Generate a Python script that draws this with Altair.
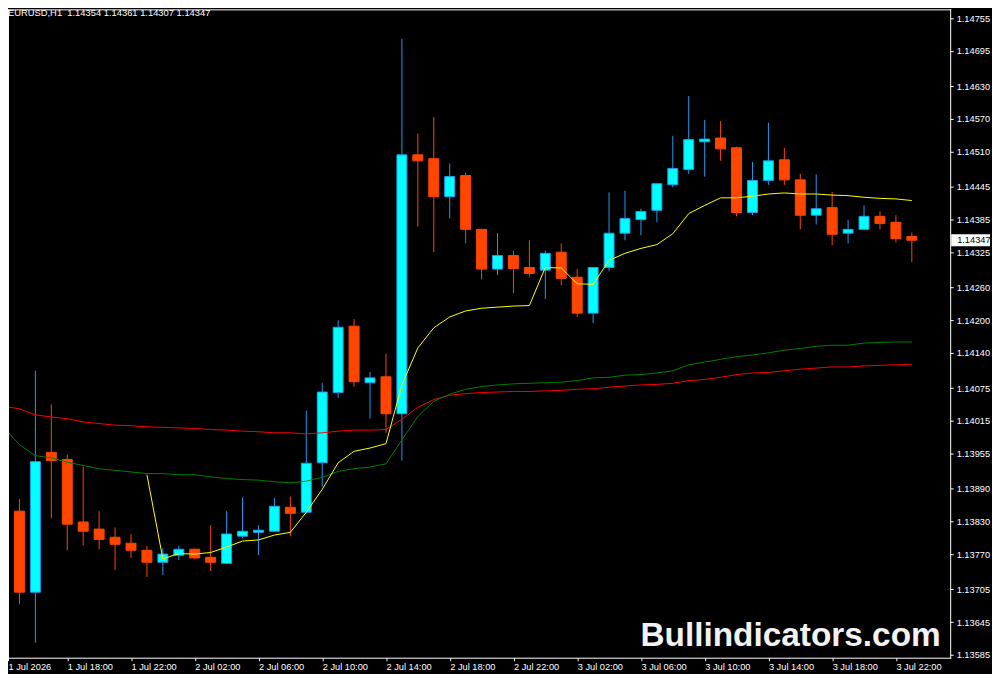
import json
import altair as alt
import pandas as pd

# ---------------- data (EURUSD H1, 1 Jul 14:00 -> 3 Jul 23:00) ----------------
opens = [1.13971, 1.13849, 1.13700, 1.13957, 1.13944, 1.13829, 1.13816, 1.13801, 1.13790, 1.13777,
         1.13755, 1.13768, 1.13779, 1.13764, 1.13753, 1.13803, 1.13810, 1.13812, 1.13856, 1.13847,
         1.13938, 1.14067, 1.14189, 1.14085, 1.14096, 1.14028, 1.14504, 1.14497, 1.14427, 1.14466,
         1.14367, 1.14294, 1.14319, 1.14297, 1.14292, 1.14325, 1.14279, 1.14213, 1.14297, 1.14360,
         1.14385, 1.14402, 1.14449, 1.14477, 1.14528, 1.14535, 1.14517, 1.14398, 1.14457, 1.14495,
         1.14458, 1.14393, 1.14407, 1.14360, 1.14367, 1.14391, 1.14380, 1.14354]
highs = [1.13980, 1.13871, 1.14107, 1.14045, 1.13953, 1.13931, 1.13849, 1.13819, 1.13807, 1.13785,
         1.13781, 1.13785, 1.13780, 1.13823, 1.13849, 1.13874, 1.13823, 1.13873, 1.13876, 1.14034,
         1.14085, 1.14200, 1.14202, 1.14105, 1.14138, 1.14717, 1.14543, 1.14574, 1.14488, 1.14471,
         1.14368, 1.14360, 1.14328, 1.14347, 1.14328, 1.14341, 1.14294, 1.14297, 1.14435, 1.14438,
         1.14405, 1.14451, 1.14539, 1.14612, 1.14568, 1.14566, 1.14519, 1.14491, 1.14563, 1.14517,
         1.14469, 1.14468, 1.14436, 1.14385, 1.14411, 1.14400, 1.14393, 1.14361]
lows = [1.13840, 1.13678, 1.13607, 1.13836, 1.13777, 1.13786, 1.13779, 1.13741, 1.13763, 1.13728,
        1.13732, 1.13759, 1.13761, 1.13739, 1.13752, 1.13799, 1.13768, 1.13811, 1.13803, 1.13845,
        1.13894, 1.14057, 1.14078, 1.14019, 1.13993, 1.13942, 1.14372, 1.14325, 1.14387, 1.14341,
        1.14275, 1.14283, 1.14250, 1.14279, 1.14239, 1.14264, 1.14206, 1.14195, 1.14290, 1.14347,
        1.14356, 1.14380, 1.14444, 1.14469, 1.14464, 1.14493, 1.14391, 1.14393, 1.14449, 1.14449,
        1.14367, 1.14376, 1.14338, 1.14341, 1.14367, 1.14367, 1.14343, 1.14307]
closes = [1.13843, 1.13700, 1.13940, 1.13942, 1.13825, 1.13812, 1.13797, 1.13788, 1.13777, 1.13755,
          1.13770, 1.13779, 1.13763, 1.13755, 1.13807, 1.13812, 1.13814, 1.13858, 1.13845, 1.13937,
          1.14068, 1.14187, 1.14087, 1.14094, 1.14028, 1.14504, 1.14493, 1.14427, 1.14464, 1.14367,
          1.14294, 1.14319, 1.14295, 1.14286, 1.14323, 1.14277, 1.14213, 1.14297, 1.14360, 1.14387,
          1.14400, 1.14451, 1.14479, 1.14532, 1.14533, 1.14515, 1.14398, 1.14457, 1.14493, 1.14458,
          1.14393, 1.14405, 1.14358, 1.14367, 1.14391, 1.14378, 1.14350, 1.14347]

ma_yellow = [None, None, None, None, None, None, None, None, None, 1.13916,
             1.13761, 1.13771, 1.13770, 1.13773, 1.13783, 1.13794, 1.13796, 1.13805, 1.13810, 1.13847,
             1.13889, 1.13938, 1.13959, 1.13965, 1.13973, 1.14081, 1.14149, 1.14186, 1.14206, 1.14217,
             1.14222, 1.14224, 1.14226, 1.14227, 1.14297, 1.14296, 1.14267, 1.14266, 1.14310, 1.14323,
             1.14332, 1.14339, 1.14359, 1.14396, 1.14411, 1.14425, 1.14425, 1.14428, 1.14432, 1.14434,
             1.14432, 1.14432, 1.14430, 1.14429, 1.14426, 1.14424, 1.14423, 1.14420]
ma_green = [1.14004, 1.13971, 1.13951, 1.13947, 1.13939, 1.13933, 1.13927, 1.13924, 1.13921, 1.13918,
            1.13918, 1.13916, 1.13916, 1.13912, 1.13909, 1.13907, 1.13906, 1.13903, 1.13901, 1.13904,
            1.13911, 1.13922, 1.13927, 1.13930, 1.13936, 1.13980, 1.14023, 1.14051, 1.14064, 1.14073,
            1.14078, 1.14081, 1.14083, 1.14084, 1.14085, 1.14086, 1.14089, 1.14094, 1.14095, 1.14099,
            1.14100, 1.14103, 1.14107, 1.14118, 1.14123, 1.14128, 1.14133, 1.14136, 1.14140, 1.14145,
            1.14148, 1.14152, 1.14154, 1.14154, 1.14158, 1.14159, 1.14160, 1.14160]
ma_red = [1.14042, 1.14037, 1.14026, 1.14022, 1.14019, 1.14013, 1.14010, 1.14007, 1.14006, 1.14004,
          1.14003, 1.14002, 1.14001, 1.13999, 1.13998, 1.13996, 1.13995, 1.13993, 1.13993, 1.13991,
          1.13993, 1.13996, 1.13998, 1.13998, 1.13999, 1.14018, 1.14040, 1.14054, 1.14062, 1.14065,
          1.14067, 1.14068, 1.14069, 1.14069, 1.14070, 1.14071, 1.14073, 1.14074, 1.14077, 1.14079,
          1.14081, 1.14082, 1.14084, 1.14089, 1.14091, 1.14095, 1.14100, 1.14103, 1.14104, 1.14107,
          1.14110, 1.14112, 1.14114, 1.14114, 1.14116, 1.14117, 1.14118, 1.14119]

time_labels = ["1 Jul 2026", "1 Jul 18:00", "1 Jul 22:00", "2 Jul 02:00", "2 Jul 06:00",
               "2 Jul 10:00", "2 Jul 14:00", "2 Jul 18:00", "2 Jul 22:00", "3 Jul 02:00",
               "3 Jul 06:00", "3 Jul 10:00", "3 Jul 14:00", "3 Jul 18:00", "3 Jul 22:00"]
price_labels = [1.14755, 1.14695, 1.14630, 1.14570, 1.14510, 1.14445, 1.14385, 1.14325, 1.14260,
                1.14200, 1.14140, 1.14075, 1.14015, 1.13955, 1.13890, 1.13830, 1.13770, 1.13705,
                1.13645, 1.13585]
symbol_name = "EURUSD,H1"
watermark = "Bullindicators.com"

# ---------------- layout / style ----------------
W, H = 946, 651
BARS_PER_TICK = 4
PX_PER_BAR = 16.0
PX_PER_UNIT = 54615.0
X0 = 0.28125
X1 = X0 + W / PX_PER_BAR
Y1 = 1.147715
Y0 = Y1 - H / PX_PER_UNIT
FONT = "Liberation Sans"
LBL = 9.3
BULL_FILL, BULL_EDGE, BEAR = "#00FFFF", "#1E9BF0", "#FF4500"
WHITE = "#FFFFFF"

n = len(opens)
idx = list(range(n))
candles = pd.DataFrame({"k": idx, "open": opens, "high": highs, "low": lows, "close": closes})
candles["dir"] = ["bull" if c >= o else "bear" for o, c in zip(opens, closes)]
lines = pd.DataFrame({"k": idx, "yellow": ma_yellow, "green": ma_green, "red": ma_red})

xs = alt.Scale(domain=[X0, X1], nice=False, zero=False, padding=0)
ys = alt.Scale(domain=[Y0, Y1], nice=False, zero=False, padding=0)

tick_vals = [X0] + [i * BARS_PER_TICK for i in range(1, len(time_labels))]
label_expr = (f"datum.value < 1 ? {json.dumps(time_labels[0])} : "
              f"{json.dumps(time_labels)}[round(datum.value / {BARS_PER_TICK})]")

in_labels = [v for v in price_labels if Y0 <= v <= Y1]
out_labels = [v for v in price_labels if not (Y0 <= v <= Y1)]

x_axis = alt.Axis(values=tick_vals, labelExpr=label_expr, orient="bottom", domain=False, grid=False,
                  tickSize=3, tickColor=WHITE, labelColor=WHITE, labelFont=FONT, labelFontSize=LBL,
                  labelAlign="left", labelBaseline="top", labelPadding=2, labelFlush=False,
                  labelOverlap=False, title=None)
y_axis = alt.Axis(values=in_labels, format=".5f", orient="right", domain=False, grid=False,
                  tickSize=3, tickColor=WHITE, labelColor=WHITE, labelFont=FONT, labelFontSize=LBL,
                  labelAlign="left", labelBaseline="middle", labelPadding=3, labelFlush=False,
                  labelOverlap=False, title=None)


def X():
    return alt.X("k:Q", scale=xs, axis=x_axis)


def Y(field):
    return alt.Y(field, scale=ys, axis=y_axis)


base = alt.Chart(candles)

wick_bull = base.transform_filter("datum.dir == 'bull'").mark_rule(
    color=BULL_EDGE, strokeWidth=1, clip=True).encode(x=X(), y=Y("low:Q"), y2="high:Q")
wick_bear = base.transform_filter("datum.dir == 'bear'").mark_rule(
    color=BEAR, strokeWidth=1, clip=True).encode(x=X(), y=Y("low:Q"), y2="high:Q")
body_bull = base.transform_filter("datum.dir == 'bull'").mark_bar(
    size=10, fill=BULL_FILL, stroke=BULL_EDGE, strokeWidth=1, clip=True).encode(
    x=X(), y=Y("open:Q"), y2="close:Q")
body_bear = base.transform_filter("datum.dir == 'bear'").mark_bar(
    size=10, fill=BEAR, stroke=BEAR, strokeWidth=1, clip=True).encode(
    x=X(), y=Y("open:Q"), y2="close:Q")


def ma_layer(col, color):
    return alt.Chart(lines).transform_filter(f"isValid(datum.{col})").mark_line(
        color=color, strokeWidth=1, clip=True).encode(x=X(), y=Y(f"{col}:Q"))


red_line = ma_layer("red", "#FF0000")
green_line = ma_layer("green", "#008000")
yellow_line = ma_layer("yellow", "#FFFF00")

# frame
frame_df = pd.DataFrame({"side": ["l"]})
frame = alt.layer(
    alt.Chart(frame_df).mark_rule(color=WHITE, strokeWidth=1).encode(
        x=alt.value(0.5), y=alt.value(0), y2=alt.value(H + 1)),
    alt.Chart(frame_df).mark_rule(color=WHITE, strokeWidth=1).encode(
        x=alt.value(W + 0.5), y=alt.value(0), y2=alt.value(H + 1)),
    alt.Chart(frame_df).mark_rule(color=WHITE, strokeWidth=1).encode(
        x=alt.value(0), x2=alt.value(W + 1), y=alt.value(0.5)),
    alt.Chart(frame_df).mark_rule(color=WHITE, strokeWidth=1).encode(
        x=alt.value(0), x2=alt.value(W + 1), y=alt.value(H + 0.5)),
)

# price labels that fall outside the plot domain
out_df = pd.DataFrame({"p": out_labels if out_labels else [None]}).dropna()
out_ticks = alt.Chart(out_df).mark_rule(color=WHITE, strokeWidth=1).encode(
    x=alt.value(W + 1), x2=alt.value(W + 4), y=Y("p:Q"))
out_text = alt.Chart(out_df).mark_text(
    align="left", baseline="middle", font=FONT, fontSize=LBL, color=WHITE).encode(
    x=alt.value(W + 7), y=Y("p:Q"), text=alt.Text("p:Q", format=".5f"))

# header text
last = n - 1
header = f"{symbol_name}\u00a0 {opens[last]:.5f} {highs[last]:.5f} {lows[last]:.5f} {closes[last]:.5f}"
header_layer = alt.Chart(pd.DataFrame({"t": [header]})).mark_text(
    align="left", baseline="alphabetic", font=FONT, fontSize=9.4, color=WHITE).encode(
    x=alt.value(0), y=alt.value(7), text="t:N")

# current price marker on the price axis
cur = pd.DataFrame({"p": [closes[last]]})
box_w = 39
price_box = alt.Chart(cur).mark_point(
    shape="M-1,-0.3077L1,-0.3077L1,0.3077L-1,0.3077Z", size=box_w * box_w, filled=True,
    color=WHITE, opacity=1, strokeWidth=0).encode(
    x=alt.value(W + 1 + box_w / 2), y=Y("p:Q"))
price_txt = alt.Chart(cur).mark_text(
    align="left", baseline="middle", font=FONT, fontSize=LBL, color="#000000").encode(
    x=alt.value(W + 7), y=Y("p:Q"), text=alt.Text("p:Q", format=".5f"))

wm = alt.Chart(pd.DataFrame({"t": [watermark]})).mark_text(
    align="left", baseline="alphabetic", font=FONT, fontSize=33.5, fontWeight="bold",
    color="#F2F2F2").encode(x=alt.value(635), y=alt.value(639), text="t:N")

chart = alt.layer(
    wick_bull, wick_bear, body_bull, body_bear,
    red_line, green_line, yellow_line,
    frame, out_ticks, out_text, header_layer, price_box, price_txt, wm,
).properties(
    width=W, height=H,
    autosize=alt.AutoSizeParams(type="none"),
    padding={"left": 0, "top": 0, "right": 42, "bottom": 15},
    background="#000000",
).configure_view(strokeWidth=0, fill="#000000")

chart.save("out.html", embed_options={"renderer": "svg", "actions": False})
